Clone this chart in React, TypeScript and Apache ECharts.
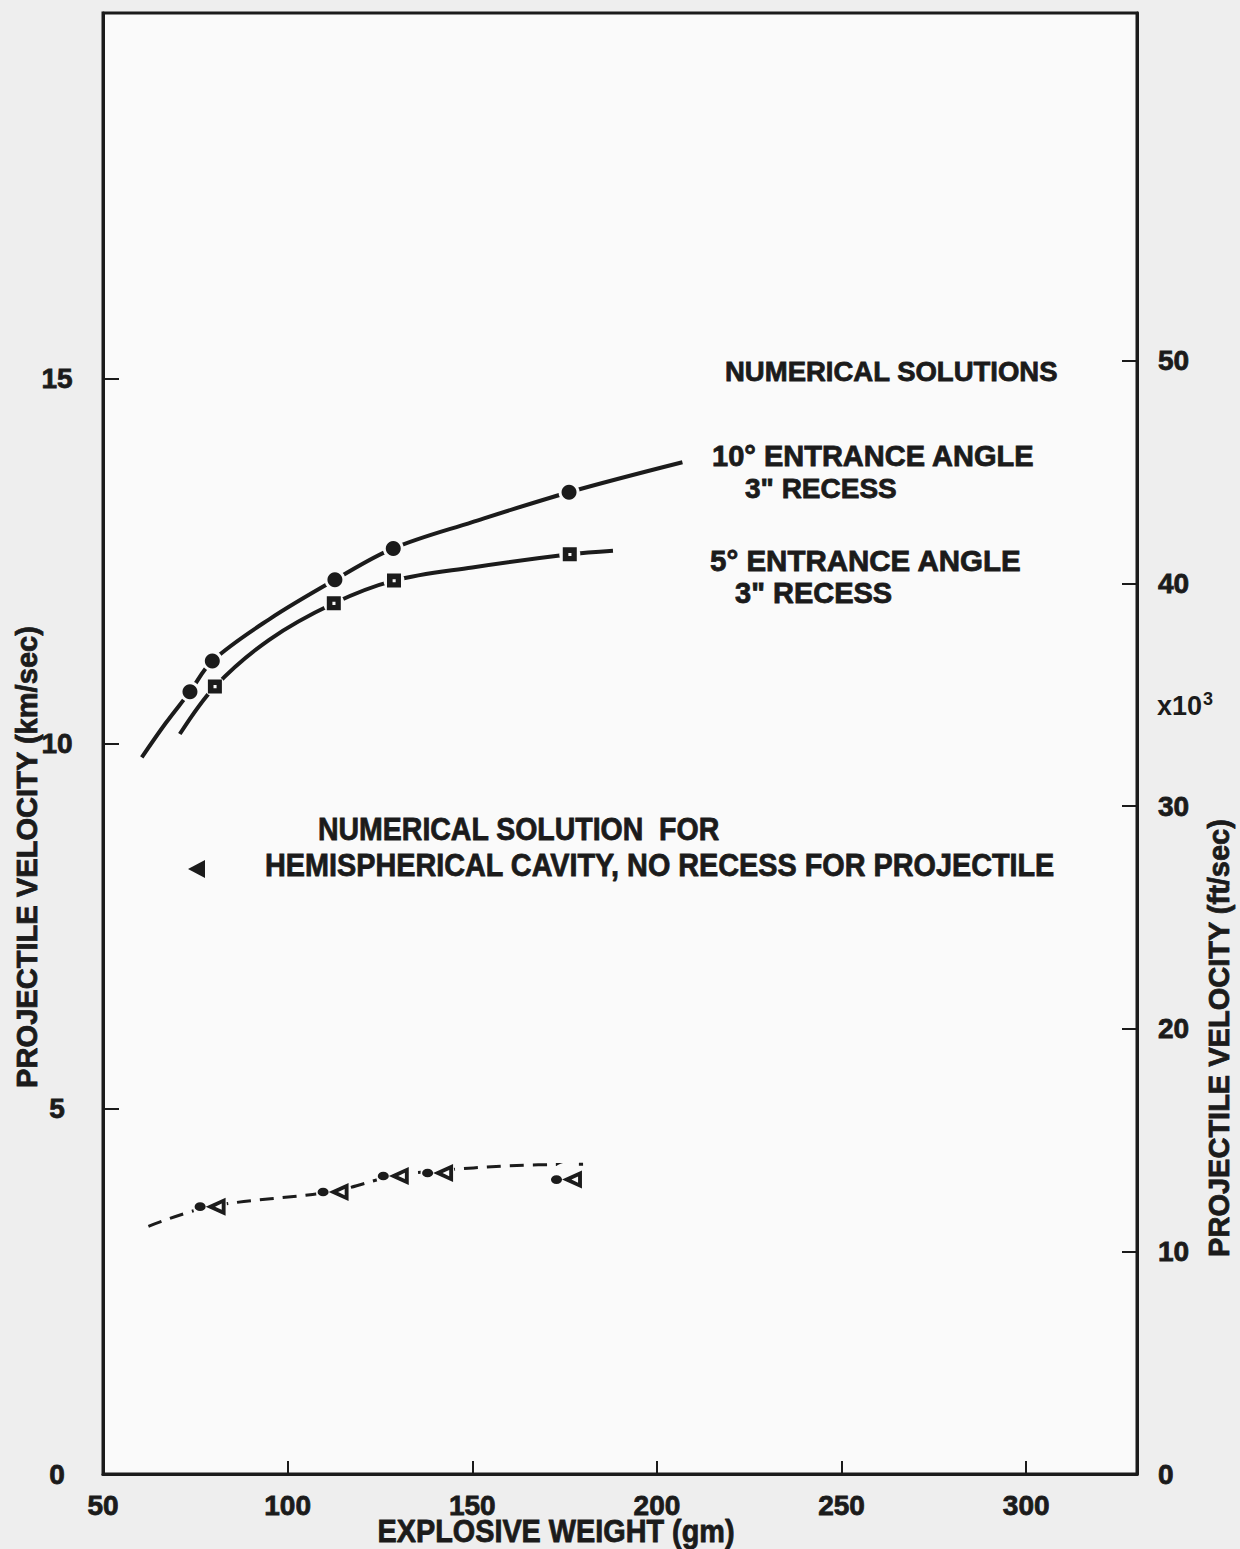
import React, { useEffect, useRef } from "react";
import * as echarts from "echarts";

// ---- data ----
const xTicks = [50, 100, 150, 200, 250, 300];
const kmTicks = [0, 5, 10, 15];
const ftTicks = [0, 10, 20, 30, 40, 50];
const KM_TO_KFT = 3.28084;

// 10° entrance angle, 3" recess (filled circles)
const curve10 = [
  [60.5, 9.81], [67, 10.28], [73.55, 10.71], [79.6, 11.13], [95, 11.7],
  [112.8, 12.24], [128.6, 12.67], [150, 13.03], [176.2, 13.44], [206.9, 13.85],
];
const points10 = [
  [73.55, 10.71], [79.6, 11.13], [112.8, 12.24], [128.6, 12.67], [176.2, 13.44],
];

// 5° entrance angle, 3" recess (squares)
const curve5 = [
  [70.8, 10.13], [80.3, 10.78], [95, 11.42], [112.5, 11.92], [128.8, 12.23],
  [150, 12.41], [176.4, 12.59], [188.1, 12.64],
];
const points5 = [
  [80.3, 10.78], [112.5, 11.92], [128.8, 12.23], [176.4, 12.59],
];

// hemispherical cavity, no recess (triangles, dashed)
const curveHemi = [
  [62.3, 3.39], [79, 3.66], [112.3, 3.87], [128.6, 4.08],
  [140.6, 4.15], [160, 4.22], [180, 4.24],
];
const pointsHemi = [
  [79, 3.66], [112.3, 3.86], [128.6, 4.08], [140.6, 4.12], [175.5, 4.03],
];

const INK = "#1b1b1b";
const PAPER = "#eeeeee";
const PLOT = "#fafafa";
const FONT = "'Liberation Sans', Arial, sans-serif";

const SQUARE = "path://M0,0H10V10H0ZM4,4V6.2H6.2V4Z";
const TRI =
  "path://M10,8L28,0L28,16ZM18.5,8L24.5,10.8V5.2ZM0,8A5,3.8 0 1,0 10,8A5,3.8 0 1,0 0,8Z";

export default function App() {
  const ref = useRef<HTMLDivElement>(null);

  useEffect(() => {
    if (!ref.current) return;
    const chart = echarts.init(ref.current, null, { renderer: "svg" });

    const halo = (data: number[][], size: number | number[]) => ({
      type: "scatter",
      data,
      symbol: "circle",
      symbolSize: size,
      itemStyle: { color: PLOT, opacity: 1 },
      z: 3,
      silent: true,
    });

    const label = (x: number, y: number, text: string, size: number, extra: any = {}) => ({
      type: "text",
      x,
      y,
      ...extra,
      style: {
        text,
        fill: INK,
        stroke: INK,
        lineWidth: 0.8,
        font: `bold ${size}px ${FONT}`,
        verticalAlign: "middle",
        lineHeight: size * 0.9,
        ...(extra.style || {}),
      },
    });

    const tickLabel = (margin: number, extra: any = {}) => ({
      margin,
      color: INK,
      fontFamily: FONT,
      fontWeight: "bold",
      fontSize: 28,
      textBorderColor: INK,
      textBorderWidth: 0.8,
      ...extra,
    });

    const option = {
      animation: false,
      backgroundColor: PAPER,
      grid: {
        left: 103,
        right: 103,
        top: 13,
        bottom: 75,
        show: true,
        backgroundColor: PLOT,
        borderColor: INK,
        borderWidth: 3,
      },
      xAxis: {
        type: "value",
        min: 50,
        max: 330,
        interval: 50,
        axisLine: { show: true, lineStyle: { color: INK, width: 3 } },
        axisTick: {
          show: true,
          inside: true,
          length: 13,
          customValues: xTicks,
          lineStyle: { color: INK, width: 2 },
        },
        axisLabel: tickLabel(17, { customValues: xTicks }),
        splitLine: { show: false },
      },
      yAxis: [
        {
          type: "value",
          min: 0,
          max: 20,
          interval: 5,
          position: "left",
          axisLine: { show: true, lineStyle: { color: INK, width: 3 } },
          axisTick: {
            show: true,
            inside: true,
            length: 16,
            customValues: kmTicks,
            lineStyle: { color: INK, width: 2 },
          },
          axisLabel: tickLabel(46, { customValues: kmTicks, align: "center" }),
          splitLine: { show: false },
        },
        {
          type: "value",
          min: 0,
          max: 20 * KM_TO_KFT,
          interval: 10,
          position: "right",
          axisLine: { show: true, lineStyle: { color: INK, width: 3 } },
          axisTick: {
            show: true,
            inside: true,
            length: 15,
            customValues: ftTicks,
            lineStyle: { color: INK, width: 2 },
          },
          axisLabel: tickLabel(21, { customValues: ftTicks }),
          splitLine: { show: false },
        },
      ],
      series: [
        {
          type: "line",
          data: curve10,
          smooth: 0.35,
          showSymbol: false,
          lineStyle: { color: INK, width: 4 },
          z: 2,
        },
        {
          type: "line",
          data: curve5,
          smooth: 0.35,
          showSymbol: false,
          lineStyle: { color: INK, width: 4 },
          z: 2,
        },
        {
          type: "line",
          data: curveHemi,
          smooth: 0.35,
          showSymbol: false,
          lineStyle: { color: INK, width: 3, type: [14, 9] },
          z: 2,
        },
        halo(points10, 21),
        halo(points5, 21),
        halo(pointsHemi, 34),
        {
          type: "scatter",
          data: points10,
          symbol: "circle",
          symbolSize: 15,
          itemStyle: { color: INK, opacity: 1 },
          z: 4,
        },
        {
          type: "scatter",
          data: points5,
          symbol: SQUARE,
          symbolSize: 14,
          itemStyle: { color: INK, opacity: 1 },
          z: 4,
        },
        {
          type: "scatter",
          data: pointsHemi,
          symbol: TRI,
          symbolSize: [31, 18],
          itemStyle: { color: INK, opacity: 1 },
          z: 4,
        },
      ],
      graphic: [
        label(725, 371, "NUMERICAL SOLUTIONS", 27.5),
        label(712, 456, "10° ENTRANCE ANGLE", 29),
        label(745, 488, '3" RECESS', 28),
        label(710, 560, "5° ENTRANCE ANGLE", 29.5),
        label(735, 593, '3" RECESS', 29),
        label(318, 829, "NUMERICAL SOLUTION  FOR", 32, { scaleX: 0.89 }),
        label(265, 864, "HEMISPHERICAL CAVITY, NO RECESS FOR PROJECTILE", 32, {
          scaleX: 0.9,
        }),
        {
          type: "polygon",
          shape: { points: [[188, 869], [205, 860], [205, 878]] },
          style: { fill: INK },
        },
        {
          type: "text",
          x: 1157,
          y: 706,
          style: {
            text: "{a|x10}{b|3}",
            fill: INK,
            verticalAlign: "middle",
            rich: {
              a: { font: `bold 27px ${FONT}`, fill: INK },
              b: {
                font: `bold 18px ${FONT}`,
                fill: INK,
                verticalAlign: "top",
                padding: [0, 0, 14, 1],
              },
            },
          },
        },
        label(556, 1531, "EXPLOSIVE WEIGHT (gm)", 31, {
          scaleX: 0.93,
          style: { align: "center" },
        }),
        label(26, 857, "PROJECTILE VELOCITY (km/sec)", 30, {
          rotation: Math.PI / 2,
          scaleX: 0.97,
          style: { align: "center" },
        }),
        label(1219, 1038, "PROJECTILE VELOCITY (ft/sec)", 29, {
          rotation: Math.PI / 2,
          style: { align: "center" },
        }),
      ],
    };

    chart.setOption(option as any);
    return () => chart.dispose();
  }, []);

  return (
    <div
      ref={ref}
      style={{ position: "absolute", left: 0, top: 0, width: 1240, height: 1549 }}
    />
  );
}
